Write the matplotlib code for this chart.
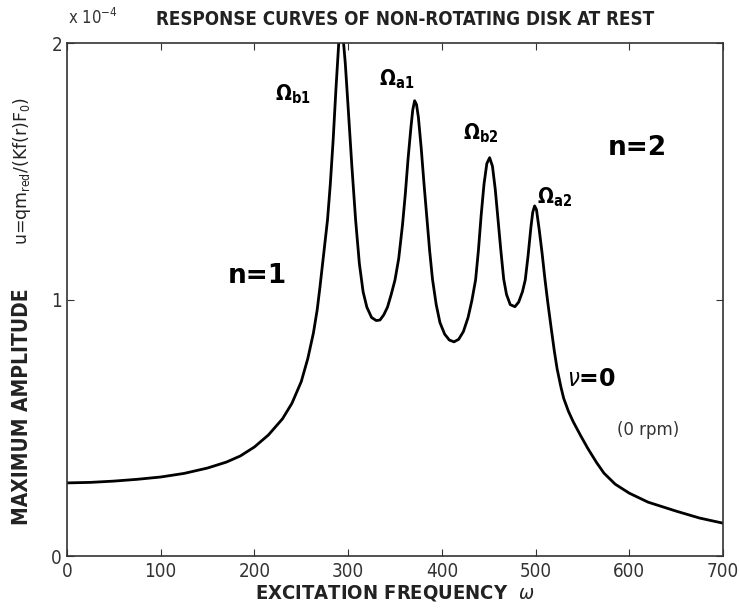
import matplotlib
matplotlib.use("Agg")
import matplotlib.pyplot as plt

# Excitation frequency (omega) and maximum amplitude (in units of 1e-4)
omega = [0, 25, 50, 75, 100, 125, 150, 170, 185, 200, 215, 230, 240, 250, 257, 263, 267,
         270, 274, 278, 281, 284, 287, 290, 292, 294, 297, 300, 304, 308, 312, 316, 320,
         325, 330, 334, 338, 342, 346, 350, 354, 358, 361, 364, 367, 369, 371, 373, 375,
         378, 381, 384, 387, 390, 394, 398, 403, 408, 413, 418, 423, 428, 432, 436, 439,
         442, 445, 448, 451, 454, 457, 460, 463, 466, 469, 473, 478, 482, 486, 489, 492,
         495, 497, 499, 501, 504, 507, 510, 513, 517, 520, 523, 527, 530, 535, 540, 548,
         556, 565, 573, 585, 600, 620, 650, 675, 700]
amplitude = [0.285, 0.287, 0.292, 0.299, 0.308, 0.322, 0.343, 0.366, 0.39, 0.425, 0.472,
             0.535, 0.595, 0.68, 0.77, 0.87, 0.96, 1.05, 1.18, 1.31, 1.45, 1.62, 1.82, 2.0,
             2.08, 2.05, 1.92, 1.75, 1.52, 1.31, 1.14, 1.03, 0.97, 0.93, 0.918, 0.92, 0.94,
             0.97, 1.02, 1.076, 1.16, 1.29, 1.41, 1.55, 1.67, 1.74, 1.775, 1.76, 1.71, 1.59,
             1.45, 1.32, 1.19, 1.08, 0.98, 0.91, 0.865, 0.842, 0.835, 0.845, 0.875, 0.93,
             0.995, 1.076, 1.19, 1.33, 1.45, 1.53, 1.553, 1.52, 1.43, 1.31, 1.19, 1.08, 1.02,
             0.98, 0.972, 0.99, 1.03, 1.076, 1.17, 1.28, 1.34, 1.365, 1.35, 1.27, 1.18, 1.08,
             0.99, 0.88, 0.80, 0.73, 0.66, 0.615, 0.565, 0.525, 0.47, 0.418, 0.365, 0.323,
             0.28, 0.245, 0.21, 0.175, 0.148, 0.128]

xticks = [0, 100, 200, 300, 400, 500, 600, 700]
yticks = [0, 1, 2]

plt.rcParams['font.family'] = ['Liberation Sans Narrow', 'DejaVu Sans']
plt.rcParams['font.stretch'] = 'condensed'

fig = plt.figure(figsize=(7.4, 6.12), dpi=100)
ax = fig.add_axes([0.0905, 0.0915, 0.8865, 0.8382])
ax.plot(omega, amplitude, color='black', lw=2.0, solid_joinstyle='round')
ax.set_xlim(0, 700)
ax.set_ylim(0, 2)
ax.set_xticks(xticks)
ax.set_yticks(yticks)
ax.tick_params(direction='in', top=True, right=True, length=5, labelsize=13.5,
               colors='#333333', labelcolor='#333333')
ax.tick_params(axis='x', pad=4)
for s in ax.spines.values():
    s.set_linewidth(1.2)
    s.set_color('#333333')

fig.text(0.092, 0.955, r'x 10$^{-4}$', fontsize=12, ha='left', va='bottom', color='#333333')
fig.text(0.547, 0.968, 'RESPONSE CURVES OF NON-ROTATING DISK AT REST', fontsize=13.5,
         fontweight='bold', ha='center', va='center', color='#222222')
ax.set_xlabel(r'EXCITATION FREQUENCY  $\omega$', fontsize=14.5, fontweight='bold', labelpad=2,
              color='#222222')
fig.text(0.030, 0.335, 'MAXIMUM AMPLITUDE', rotation=90, fontsize=15, fontweight='bold',
         ha='center', va='center', color='#222222')
fig.text(0.030, 0.72, r'u=qm$_{\rm red}$/(Kf(r)F$_0$)', rotation=90, fontsize=12.5,
         ha='center', va='center', color='#222222', fontstretch='normal')

ax.text(241, 1.80, r'$\mathbf{\Omega_{b1}}$', fontsize=15, ha='center', va='center')
ax.text(352, 1.86, r'$\mathbf{\Omega_{a1}}$', fontsize=15, ha='center', va='center')
ax.text(442, 1.65, r'$\mathbf{\Omega_{b2}}$', fontsize=15, ha='center', va='center')
ax.text(520, 1.40, r'$\mathbf{\Omega_{a2}}$', fontsize=15, ha='center', va='center')
ax.text(203, 1.09, 'n=1', fontsize=19, fontweight='bold', ha='center', va='center',
        fontstretch='normal')
ax.text(609, 1.59, 'n=2', fontsize=19, fontweight='bold', ha='center', va='center',
        fontstretch='normal')
ax.text(560, 0.69, r'$\nu$=0', fontsize=17, fontweight='bold', ha='center', va='center',
        fontstretch='normal')
ax.text(620, 0.49, '(0 rpm)', fontsize=12, ha='center', va='center', color='#333333',
        fontstretch='normal')

fig.savefig('out.png', dpi=100)
